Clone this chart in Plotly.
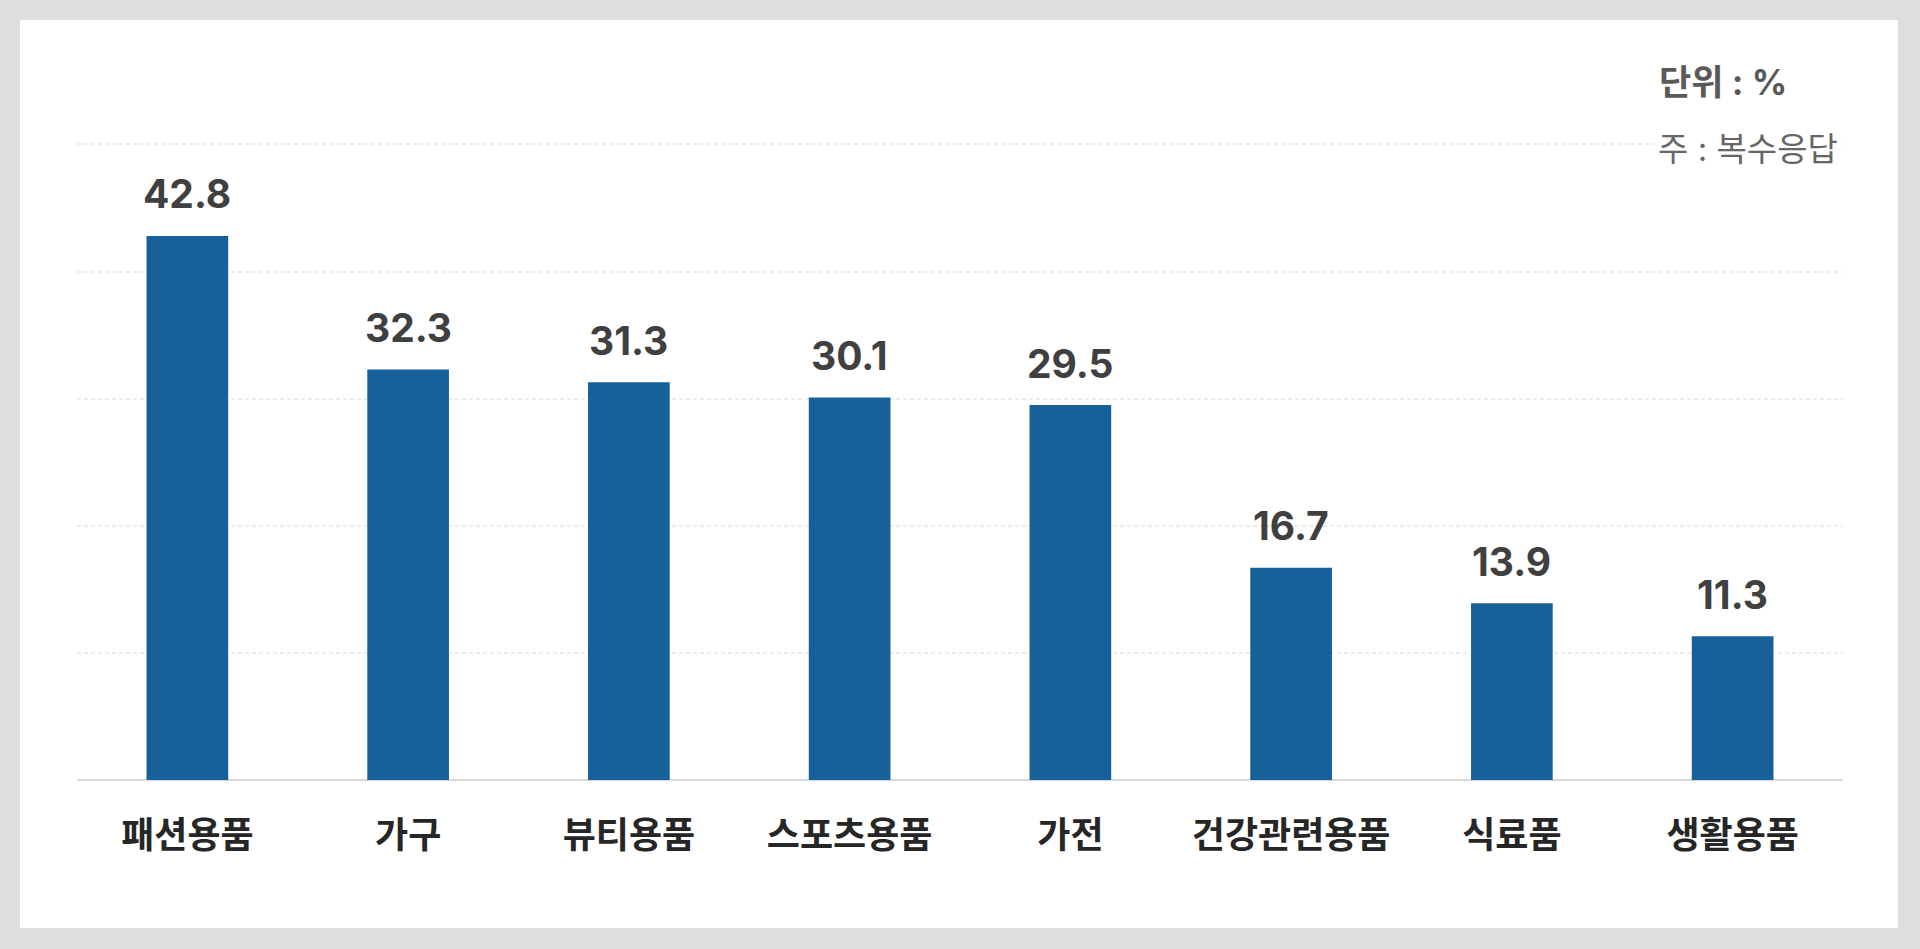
import plotly.graph_objects as go

categories = ["패션용품", "가구", "뷰티용품", "스포츠용품", "가전", "건강관련용품", "식료품", "생활용품"]
values = [42.8, 32.3, 31.3, 30.1, 29.5, 16.7, 13.9, 11.3]
y_ticks = [0, 10, 20, 30, 40, 50]
unit_text = "단위 : %"
note_text = "주 : 복수응답"

W, H = 1920, 949
ML, MR, MT, MB = 77, 77, 139, 169
pw = W - ML - MR
ph = H - MT - MB
Y_MAX = 50.43

def px_x(x):
    return (x - ML) / pw

def px_y(y):
    return (H - MB - y) / ph

fig = go.Figure()
fig.add_trace(go.Bar(
    x=categories, y=values,
    marker=dict(color="#16619a", line=dict(width=0)),
    width=0.37,
    hoverinfo="x+y",
))

for c, v in zip(categories, values):
    fig.add_annotation(
        x=c, y=v, xref="x", yref="y",
        text=f"{v:.1f}", showarrow=False,
        yanchor="middle", yshift=42,
        font=dict(family="Inter, Noto Sans CJK KR", size=39, color="#404040", weight=700),
    )

fig.add_annotation(
    x=px_x(1657), y=px_y(82), xref="paper", yref="paper",
    text=unit_text, showarrow=False, xanchor="left", yanchor="middle",
    font=dict(family="Inter, Noto Sans CJK KR", size=35, color="#595959", weight=700),
)
fig.add_annotation(
    x=px_x(1655), y=px_y(149), xref="paper", yref="paper",
    text=note_text, showarrow=False, xanchor="left", yanchor="middle",
    bgcolor="#ffffff", borderpad=2,
    font=dict(family="Inter, Noto Sans CJK KR", size=33, color="#666666"),
)

# white card over grey page
fig.add_shape(
    type="rect", xref="paper", yref="paper", layer="below",
    x0=px_x(20), x1=px_x(1898), y0=px_y(928), y1=px_y(20),
    fillcolor="#ffffff", line=dict(width=0),
)

fig.update_layout(
    width=W, height=H,
    margin=dict(l=ML, r=MR, t=MT, b=MB, pad=0),
    paper_bgcolor="#dedede",
    plot_bgcolor="rgba(0,0,0,0)",
    showlegend=False,
    bargap=0.63,
    font=dict(family="Inter, Noto Sans CJK KR"),
)
fig.update_xaxes(
    showgrid=False, showline=False, zeroline=False,
    ticks="", ticklabelstandoff=31,
    tickfont=dict(family="Noto Sans CJK KR", size=36, color="#262626", weight=700),
)
fig.update_yaxes(
    range=[0, Y_MAX], tickvals=y_ticks, showticklabels=False,
    showgrid=True, gridcolor="#ececec", gridwidth=1.5, griddash="4px,3px",
    zeroline=True, zerolinecolor="#d9d9d9", zerolinewidth=2,
    showline=False,
)

fig.write_html(
    "out.html",
    config={"displayModeBar": False},
    post_script="document.body.style.margin='0';document.body.style.overflow='hidden';",
)
